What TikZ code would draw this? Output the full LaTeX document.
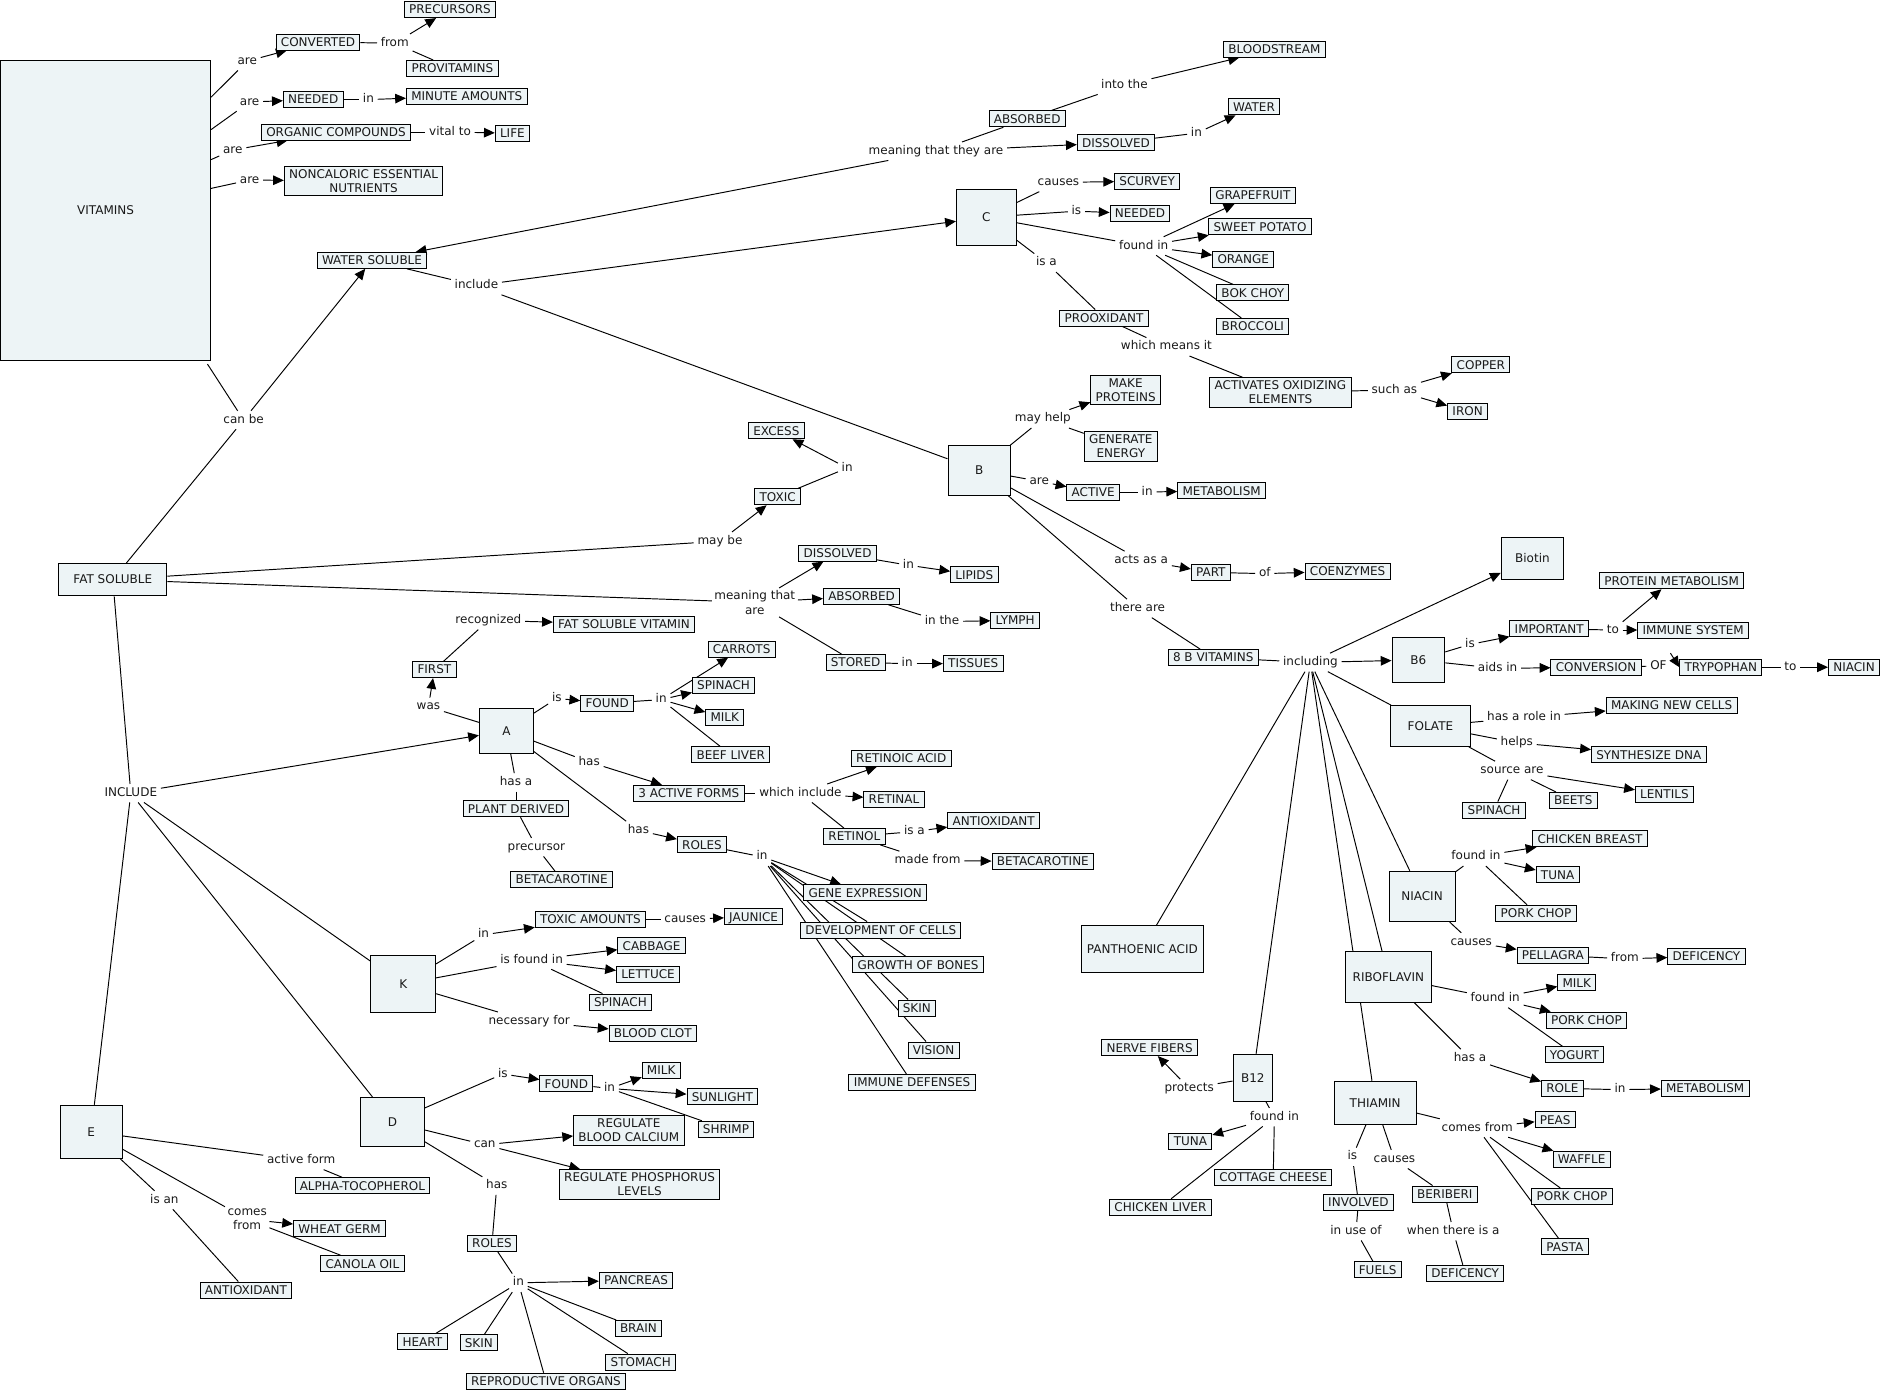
\documentclass[tikz,border=0pt]{standalone}
\usepackage{fontspec}
\setmainfont{DejaVu Sans}
\usetikzlibrary{arrows.meta}
\definecolor{cfill}{RGB}{237,244,246}
\definecolor{ctext}{RGB}{25,25,25}
\pgfdeclarelayer{bg}
\pgfsetlayers{bg,main}
\newcommand\fsz{\fontsize{10}{12}\selectfont}
\tikzset{
 cpt/.style={draw=black, line width=0.8pt, fill=cfill, text=ctext, font=\fsz, inner xsep=4pt, inner ysep=3pt, text height=7.3pt, text depth=0pt},
 cptm/.style={draw=black, line width=0.8pt, fill=cfill, text=ctext, font=\fsz, inner xsep=4pt, inner ysep=2.5pt, align=center},
 bigc/.style={cpt, inner sep=0pt},
 lbl/.style={text=ctext, font=\fsz, inner sep=3pt, text height=7pt, text depth=2pt},
 lblm/.style={text=ctext, font=\fsz, inner sep=2pt, align=center},
 cline/.style={line width=0.8pt, draw=black},
 carr/.style={cline, -{Triangle[length=9pt,width=8pt]}},
}
\begin{document}
\begin{tikzpicture}[x=1pt,y=-1pt]
\useasboundingbox (0,0) rectangle (1570,1160);
% ---------------- concepts ----------------
\node[bigc, minimum width=175pt, minimum height=250pt] (vit) at (88,175) {VITAMINS};
\node[cpt] (conv) at (265,35) {CONVERTED};
\node[cpt] (prec) at (375,8) {PRECURSORS};
\node[cpt] (prov) at (377,57) {PROVITAMINS};
\node[cpt] (need) at (261,83) {NEEDED};
\node[cpt] (minute) at (389,80) {MINUTE AMOUNTS};
\node[cpt] (org) at (280,110) {ORGANIC COMPOUNDS};
\node[cpt] (life) at (427,111) {LIFE};
\node[cptm] (nonc) at (303,151) {NONCALORIC ESSENTIAL\\NUTRIENTS};
\node[cpt] (ws) at (310,217) {WATER SOLUBLE};
\node[cpt] (abs1) at (856,99) {ABSORBED};
\node[cpt] (blood) at (1062,41) {BLOODSTREAM};
\node[cpt] (diss1) at (930,119) {DISSOLVED};
\node[cpt] (water) at (1045,89) {WATER};
\node[bigc, minimum width=50pt, minimum height=47pt] (C) at (822,181) {C};
\node[cpt] (scurvey) at (956,151) {SCURVEY};
\node[cpt] (need2) at (950,178) {NEEDED};
\node[cpt] (grape) at (1044,163) {GRAPEFRUIT};
\node[cpt] (sweet) at (1050,189) {SWEET POTATO};
\node[cpt] (orange) at (1036,216) {ORANGE};
\node[cpt] (bok) at (1044,244) {BOK CHOY};
\node[cpt] (broc) at (1044,272) {BROCCOLI};
\node[cpt] (proox) at (920,265) {PROOXIDANT};
\node[cptm] (activ) at (1067,327) {ACTIVATES OXIDIZING\\ELEMENTS};
\node[cpt] (copper) at (1234,304) {COPPER};
\node[cpt] (iron) at (1223,343) {IRON};
\node[bigc, minimum width=52pt, minimum height=41pt] (B) at (816,392) {B};
\node[cptm] (makep) at (938,325) {MAKE\\PROTEINS};
\node[cptm] (gen) at (934,372) {GENERATE\\ENERGY};
\node[cpt] (active) at (911,410) {ACTIVE};
\node[cpt] (metab1) at (1018,409) {METABOLISM};
\node[cpt] (part) at (1009,477) {PART};
\node[cpt] (coenz) at (1123,476) {COENZYMES};
\node[cpt] (eightb) at (1011,548) {8 B VITAMINS};
\node[bigc, minimum width=52pt, minimum height=35pt] (biotin) at (1277,465) {Biotin};
\node[bigc, minimum width=44pt, minimum height=37pt] (b6) at (1182,550) {B6};
\node[cpt] (important) at (1291,524) {IMPORTANT};
\node[cpt] (protmet) at (1393,484) {PROTEIN METABOLISM};
\node[cpt] (immune) at (1411,525) {IMMUNE SYSTEM};
\node[cpt] (conversion) at (1330,556) {CONVERSION};
\node[cpt] (tryp) at (1434,556) {TRYPOPHAN};
\node[cpt] (niacintwo) at (1545,556) {NIACIN};
\node[bigc, minimum width=67pt, minimum height=34pt] (folate) at (1192,605) {FOLATE};
\node[cpt] (makingcells) at (1393,588) {MAKING NEW CELLS};
\node[cpt] (synth) at (1374,629) {SYNTHESIZE DNA};
\node[cpt] (lentils) at (1387,662) {LENTILS};
\node[cpt] (beets) at (1311,667) {BEETS};
\node[cpt] (spinF) at (1245,675) {SPINACH};
\node[bigc, minimum width=55pt, minimum height=42pt] (niacin) at (1185,747) {NIACIN};
\node[cpt] (chickb) at (1325,699) {CHICKEN BREAST};
\node[cpt] (tunaN) at (1298,729) {TUNA};
\node[cpt] (porkN) at (1280,761) {PORK CHOP};
\node[cpt] (pellagra) at (1294,796) {PELLAGRA};
\node[cpt] (defN) at (1422,797) {DEFICENCY};
\node[bigc, minimum width=71pt, minimum height=42pt] (ribo) at (1157,814) {RIBOFLAVIN};
\node[cpt] (milkR) at (1314,819) {MILK};
\node[cpt] (porkR) at (1322,850) {PORK CHOP};
\node[cpt] (yogurt) at (1312,879) {YOGURT};
\node[cpt] (role) at (1302,907) {ROLE};
\node[cpt] (metabR) at (1421,907) {METABOLISM};
\node[bigc, minimum width=68pt, minimum height=36pt] (thiamin) at (1146,919) {THIAMIN};
\node[cpt] (peas) at (1296,933) {PEAS};
\node[cpt] (waffle) at (1318,966) {WAFFLE};
\node[cpt] (porkT) at (1310,997) {PORK CHOP};
\node[cpt] (pasta) at (1304,1039) {PASTA};
\node[cpt] (involved) at (1132,1002) {INVOLVED};
\node[cpt] (fuels) at (1148,1058) {FUELS};
\node[cpt] (beriberi) at (1204,995) {BERIBERI};
\node[cpt] (defT) at (1221,1061) {DEFICENCY};
\node[bigc, minimum width=33pt, minimum height=39pt] (btwelve) at (1044,898) {B12};
\node[cpt] (nerve) at (958,873) {NERVE FIBERS};
\node[cpt] (tunaB) at (992,951) {TUNA};
\node[cpt] (cottage) at (1061,981) {COTTAGE CHEESE};
\node[cpt] (chickl) at (967,1006) {CHICKEN LIVER};
\node[bigc, minimum width=102pt, minimum height=39pt] (panth) at (952,791) {PANTHOENIC ACID};
\node[bigc, minimum width=90pt, minimum height=27pt] (fat) at (94,483) {FAT SOLUBLE};
\node[cpt] (toxic) at (648,414) {TOXIC};
\node[cpt] (excess) at (647,359) {EXCESS};
\node[cpt] (diss2) at (698,461) {DISSOLVED};
\node[cpt] (lipids) at (812,479) {LIPIDS};
\node[cpt] (abs2) at (718,497) {ABSORBED};
\node[cpt] (lymph) at (846,517) {LYMPH};
\node[cpt] (stored) at (713,552) {STORED};
\node[cpt] (tissues) at (811,553) {TISSUES};
\node[bigc, minimum width=45pt, minimum height=37pt] (A) at (422,609) {A};
\node[cpt] (first) at (362,558) {FIRST};
\node[cpt] (fsv) at (520,520) {FAT SOLUBLE VITAMIN};
\node[cpt] (foundA) at (506,586) {FOUND};
\node[cpt] (carrots) at (618,541) {CARROTS};
\node[cpt] (spinA) at (603,571) {SPINACH};
\node[cpt] (milkA) at (604,598) {MILK};
\node[cpt] (beef) at (609,629) {BEEF LIVER};
\node[cpt] (actthree) at (574,661) {3 ACTIVE FORMS};
\node[cpt] (retacid) at (751,632) {RETINOIC ACID};
\node[cpt] (retinal) at (745,666) {RETINAL};
\node[cpt] (retinol) at (712,697) {RETINOL};
\node[cpt] (antiA) at (828,684) {ANTIOXIDANT};
\node[cpt] (betaR) at (869,718) {BETACAROTINE};
\node[cpt] (plant) at (430,674) {PLANT DERIVED};
\node[cpt] (betaL) at (468,733) {BETACAROTINE};
\node[cpt] (rolesA) at (585,704) {ROLES};
\node[cpt] (gene) at (721,744) {GENE EXPRESSION};
\node[cpt] (devcells) at (734,775) {DEVELOPMENT OF CELLS};
\node[cpt] (growth) at (765,804) {GROWTH OF BONES};
\node[cpt] (skinA) at (764,840) {SKIN};
\node[cpt] (vision) at (778,875) {VISION};
\node[cpt] (immdef) at (760,902) {IMMUNE DEFENSES};
\node[bigc, minimum width=54pt, minimum height=47pt] (K) at (336,820) {K};
\node[cpt] (toxam) at (492,766) {TOXIC AMOUNTS};
\node[cpt] (jaunice) at (628,764) {JAUNICE};
\node[cpt] (cabbage) at (543,788) {CABBAGE};
\node[cpt] (lettuce) at (540,812) {LETTUCE};
\node[cpt] (spinK) at (517,835) {SPINACH};
\node[cpt] (clot) at (544,861) {BLOOD CLOT};
\node[bigc, minimum width=53pt, minimum height=41pt] (D) at (327,935) {D};
\node[cpt] (foundD) at (472,903) {FOUND};
\node[cpt] (milkD) at (551,892) {MILK};
\node[cpt] (sun) at (602,914) {SUNLIGHT};
\node[cpt] (shrimp) at (605,941) {SHRIMP};
\node[cptm] (regca) at (524,942) {REGULATE\\BLOOD CALCIUM};
\node[cptm] (regp) at (533,987) {REGULATE PHOSPHORUS\\LEVELS};
\node[cpt] (rolesD) at (410,1036) {ROLES};
\node[cpt] (pancreas) at (530,1067) {PANCREAS};
\node[cpt] (brain) at (532,1107) {BRAIN};
\node[cpt] (stomach) at (534,1135) {STOMACH};
\node[cpt] (repro) at (455,1151) {REPRODUCTIVE ORGANS};
\node[cpt] (skinD) at (399,1119) {SKIN};
\node[cpt] (heart) at (352,1118) {HEART};
\node[bigc, minimum width=52pt, minimum height=44pt] (E) at (76,943) {E};
\node[cpt] (alpha) at (302,988) {ALPHA-TOCOPHEROL};
\node[cpt] (wheat) at (283,1024) {WHEAT GERM};
\node[cpt] (canola) at (302,1053) {CANOLA OIL};
\node[cpt] (antiE) at (205,1075) {ANTIOXIDANT};
% ---------------- linking phrases ----------------
\node[lbl] (lareA) at (206,51) {are};
\node[lbl] (lfrom) at (329,36) {from};
\node[lbl] (lareB) at (208,85) {are};
\node[lbl] (linA) at (307,83) {in};
\node[lbl] (lareC) at (194,125) {are};
\node[lbl] (lvital) at (375,110) {vital to};
\node[lbl] (lareD) at (208,150) {are};
\node[lbl] (lcanbe) at (203,350) {can be};
\node[lbl] (linclude) at (397,238) {include};
\node[lbl] (lmeanW) at (780,126) {meaning that they are};
\node[lbl] (linto) at (937,71) {into the};
\node[lbl] (linW) at (997,111) {in};
\node[lbl] (lcausesC) at (882,152) {causes};
\node[lbl] (lisC) at (897,176) {is};
\node[lbl] (lfoundC) at (953,205) {found in};
\node[lbl] (lisa) at (872,219) {is a};
\node[lbl] (lwhich) at (972,289) {which means it};
\node[lbl] (lsuch) at (1162,325) {such as};
\node[lbl] (lmayhelp) at (869,349) {may help};
\node[lbl] (lareE) at (866,401) {are};
\node[lbl] (linB) at (956,410) {in};
\node[lbl] (lacts) at (951,467) {acts as a};
\node[lbl] (lof) at (1054,478) {of};
\node[lbl] (lthere) at (948,507) {there are};
\node[lbl] (lincluding) at (1092,552) {including};
\node[lbl] (lissix) at (1225,537) {is};
\node[lbl] (ltosix) at (1344,525) {to};
\node[lbl] (laids) at (1248,557) {aids in};
\node[lbl] (lOF) at (1382,555) {OF};
\node[lbl] (ltoseven) at (1492,556) {to};
\node[lbl] (lrole) at (1270,598) {has a role in};
\node[lbl] (lhelps) at (1264,619) {helps};
\node[lbl] (lsource) at (1260,642) {source are};
\node[lbl] (lfoundN) at (1230,714) {found in};
\node[lbl] (lcausesN) at (1226,785) {causes};
\node[lbl] (lfromN) at (1354,799) {from};
\node[lbl] (lfoundR) at (1246,832) {found in};
\node[lbl] (lhasaR) at (1225,882) {has a};
\node[lbl] (linR) at (1350,908) {in};
\node[lbl] (lcomes) at (1231,940) {comes from};
\node[lbl] (lisT) at (1127,964) {is};
\node[lbl] (linuse) at (1130,1026) {in use of};
\node[lbl] (lcausesT) at (1162,966) {causes};
\node[lbl] (lwhen) at (1211,1026) {when there is a};
\node[lbl] (lprotects) at (991,907) {protects};
\node[lbl] (lfoundB) at (1062,931) {found in};
\node[lbl] (lmaybe) at (600,451) {may be};
\node[lbl] (linTox) at (706,390) {in};
\node[lblm] (lmeanF) at (629,502) {meaning that\\are};
\node[lbl] (linD) at (757,471) {in};
\node[lbl] (linthe) at (785,518) {in the};
\node[lbl] (linS) at (756,553) {in};
\node[lbl] (lINCLUDE) at (109,661) {INCLUDE};
\node[lbl] (lwas) at (357,589) {was};
\node[lbl] (lrecog) at (407,517) {recognized};
\node[lbl] (lisA) at (464,582) {is};
\node[lbl] (linAA) at (551,583) {in};
\node[lbl] (lhasone) at (491,635) {has};
\node[lbl] (lwhichtwo) at (667,661) {which include};
\node[lbl] (lisatwo) at (762,693) {is a};
\node[lbl] (lmade) at (773,717) {made from};
\node[lbl] (lhasa) at (430,652) {has a};
\node[lbl] (lprec) at (447,706) {precursor};
\node[lbl] (lhastwo) at (532,692) {has};
\node[lbl] (linRoles) at (635,714) {in};
\node[lbl] (linK) at (403,779) {in};
\node[lbl] (lcausesK) at (571,766) {causes};
\node[lbl] (lisfound) at (443,800) {is found in};
\node[lbl] (lnec) at (441,851) {necessary for};
\node[lbl] (lisD) at (419,895) {is};
\node[lbl] (linF) at (508,907) {in};
\node[lbl] (lcan) at (404,954) {can};
\node[lbl] (lhasD) at (414,988) {has};
\node[lbl] (linRD) at (432,1069) {in};
\node[lbl] (lactive) at (251,967) {active form};
\node[lblm] (lcomesE) at (206,1016) {comes\\from};
\node[lbl] (lisan) at (137,1000) {is an};
% ---------------- connectors ----------------
\begin{pgfonlayer}{bg}
\draw[cline] ([yshift=94pt]vit.east) -- (lareA);
\draw[carr] (lareA) -- (conv);
\draw[cline] (conv) -- (lfrom);
\draw[carr] (lfrom) -- (prec);
\draw[cline] (lfrom) -- (prov);
\draw[cline] ([yshift=67pt]vit.east) -- (lareB);
\draw[carr] (lareB) -- (need);
\draw[cline] (need) -- (linA);
\draw[carr] (linA) -- (minute);
\draw[cline] ([yshift=42pt]vit.east) -- (lareC);
\draw[carr] (lareC) -- (org);
\draw[cline] (org) -- (lvital);
\draw[carr] (lvital) -- (life);
\draw[cline] ([yshift=18pt]vit.east) -- (lareD);
\draw[carr] (lareD) -- (nonc);
\draw[cline] ([xshift=-3pt,yshift=-3pt]vit.south east) -- (lcanbe);
\draw[carr] (lcanbe) -- (ws);
\draw[cline] (fat) -- (lcanbe);
% water soluble
\draw[cline] (ws) -- (linclude);
\draw[carr] (linclude) -- (C);
\draw[cline] (linclude) -- (B);
\draw[carr] (lmeanW) -- (ws);
\draw[cline] (lmeanW) -- (abs1);
\draw[carr] (lmeanW) -- (diss1);
\draw[cline] (abs1) -- (linto);
\draw[carr] (linto) -- (blood);
\draw[cline] (diss1) -- (linW);
\draw[carr] (linW) -- (water);
% C
\draw[cline] (C) -- (lcausesC);
\draw[carr] (lcausesC) -- (scurvey);
\draw[cline] (C) -- (lisC);
\draw[carr] (lisC) -- (need2);
\draw[cline] (C) -- (lfoundC);
\draw[carr] (lfoundC) -- (grape);
\draw[carr] (lfoundC) -- (sweet);
\draw[carr] (lfoundC) -- (orange);
\draw[cline] (lfoundC) -- (bok);
\draw[cline] (lfoundC) -- (broc);
\draw[cline] (C) -- (lisa);
\draw[cline] (lisa) -- (proox);
\draw[cline] (proox) -- (lwhich);
\draw[cline] (lwhich) -- (activ);
\draw[cline] (activ) -- (lsuch);
\draw[carr] (lsuch) -- (copper);
\draw[carr] (lsuch) -- (iron);
% B
\draw[cline] (B) -- (lmayhelp);
\draw[carr] (lmayhelp) -- (makep);
\draw[cline] (lmayhelp) -- (gen);
\draw[cline] (B) -- (lareE);
\draw[carr] (lareE) -- (active);
\draw[cline] (active) -- (linB);
\draw[carr] (linB) -- (metab1);
\draw[cline] (B) -- (lacts);
\draw[carr] (lacts) -- (part);
\draw[cline] (part) -- (lof);
\draw[carr] (lof) -- (coenz);
\draw[cline] (B) -- (lthere);
\draw[cline] (lthere) -- (eightb);
\draw[cline] (eightb) -- (lincluding);
\draw[carr] (lincluding) -- (b6);
\draw[carr] (lincluding) -- (biotin);
\draw[cline] (lincluding) -- (folate);
\draw[cline] (lincluding) -- (niacin);
\draw[cline] (lincluding) -- (ribo);
\draw[cline] (lincluding) -- (thiamin);
\draw[cline] (lincluding) -- (btwelve);
\draw[cline] (lincluding) -- (panth);
% B6
\draw[cline] (b6) -- (lissix);
\draw[carr] (lissix) -- (important);
\draw[cline] (important) -- (ltosix);
\draw[carr] (ltosix) -- (immune);
\draw[carr] (ltosix) -- (protmet);
\draw[cline] (b6) -- (laids);
\draw[carr] (laids) -- (conversion);
\draw[cline] (conversion) -- (lOF);
\draw[carr] ([yshift=3pt]lOF.north east) -- (tryp.west);
\draw[cline] (tryp) -- (ltoseven);
\draw[carr] (ltoseven) -- (niacintwo);
% folate
\draw[cline] (folate) -- (lrole);
\draw[carr] (lrole) -- (makingcells);
\draw[cline] (folate) -- (lhelps);
\draw[carr] (lhelps) -- (synth);
\draw[cline] (folate) -- (lsource);
\draw[carr] (lsource) -- (lentils);
\draw[cline] (lsource) -- (beets);
\draw[cline] (lsource) -- (spinF);
% niacin
\draw[cline] (niacin) -- (lfoundN);
\draw[carr] (lfoundN) -- (chickb);
\draw[carr] (lfoundN) -- (tunaN);
\draw[cline] (lfoundN) -- (porkN);
\draw[cline] (niacin) -- (lcausesN);
\draw[carr] (lcausesN) -- (pellagra);
\draw[cline] (pellagra) -- (lfromN);
\draw[carr] (lfromN) -- (defN);
% riboflavin
\draw[cline] (ribo) -- (lfoundR);
\draw[carr] (lfoundR) -- (milkR);
\draw[carr] (lfoundR) -- (porkR);
\draw[cline] (lfoundR) -- (yogurt);
\draw[cline] (ribo) -- (lhasaR);
\draw[carr] (lhasaR) -- (role);
\draw[cline] (role) -- (linR);
\draw[carr] (linR) -- (metabR);
% thiamin
\draw[cline] (thiamin) -- (lcomes);
\draw[carr] (lcomes) -- (peas);
\draw[carr] (lcomes) -- (waffle);
\draw[cline] (lcomes) -- (porkT);
\draw[cline] (lcomes) -- (pasta);
\draw[cline] (thiamin) -- (lisT);
\draw[cline] (lisT) -- (involved);
\draw[cline] (involved) -- (linuse);
\draw[cline] (linuse) -- (fuels);
\draw[cline] (thiamin) -- (lcausesT);
\draw[cline] (lcausesT) -- (beriberi);
\draw[cline] (beriberi) -- (lwhen);
\draw[cline] (lwhen) -- (defT);
% B12
\draw[cline] (btwelve) -- (lprotects);
\draw[carr] (lprotects) -- (nerve);
\draw[cline] (btwelve) -- (lfoundB);
\draw[carr] (lfoundB) -- (tunaB);
\draw[cline] (lfoundB) -- (chickl);
\draw[cline] (lfoundB) -- (cottage);
% fat soluble
\draw[cline] (fat) -- (lmaybe);
\draw[carr] (lmaybe) -- (toxic);
\draw[cline] (toxic) -- (linTox);
\draw[carr] (linTox) -- (excess);
\draw[cline] (fat) -- (lmeanF);
\draw[carr] (lmeanF) -- (diss2);
\draw[carr] (lmeanF) -- (abs2);
\draw[cline] (lmeanF) -- (stored);
\draw[cline] (diss2) -- (linD);
\draw[carr] (linD) -- (lipids);
\draw[cline] (abs2) -- (linthe);
\draw[carr] (linthe) -- (lymph);
\draw[cline] (stored) -- (linS);
\draw[carr] (linS) -- (tissues);
\draw[cline] (fat) -- (lINCLUDE);
\draw[carr] (lINCLUDE) -- (A);
\draw[cline] (lINCLUDE) -- (E);
\draw[cline] (lINCLUDE) -- (D);
\draw[cline] (lINCLUDE) -- (K);
% A
\draw[cline] (A) -- (lwas);
\draw[carr] (lwas) -- (first);
\draw[cline] (first) -- (lrecog);
\draw[carr] (lrecog) -- (fsv);
\draw[cline] (A) -- (lisA);
\draw[carr] (lisA) -- (foundA);
\draw[cline] (foundA) -- (linAA);
\draw[carr] (linAA) -- (carrots);
\draw[carr] (linAA) -- (spinA);
\draw[carr] (linAA) -- (milkA);
\draw[cline] (linAA) -- (beef);
\draw[cline] (A) -- (lhasone);
\draw[carr] (lhasone) -- (actthree);
\draw[cline] (actthree) -- (lwhichtwo);
\draw[carr] (lwhichtwo) -- (retacid);
\draw[carr] (lwhichtwo) -- (retinal);
\draw[cline] (lwhichtwo) -- (retinol);
\draw[cline] (retinol) -- (lisatwo);
\draw[carr] (lisatwo) -- (antiA);
\draw[cline] (retinol) -- (lmade);
\draw[carr] (lmade) -- (betaR);
\draw[cline] (A) -- (lhasa);
\draw[cline] (lhasa) -- (plant);
\draw[cline] (plant) -- (lprec);
\draw[cline] (lprec) -- (betaL);
\draw[cline] (A) -- (lhastwo);
\draw[carr] (lhastwo) -- (rolesA);
\draw[cline] (rolesA) -- (linRoles);
\draw[carr] (linRoles) -- (gene);
\draw[cline] (linRoles) -- (devcells);
\draw[cline] (linRoles) -- (growth);
\draw[cline] (linRoles) -- (skinA);
\draw[cline] (linRoles) -- (vision);
\draw[cline] (linRoles) -- (immdef);
% K
\draw[cline] (K) -- (linK);
\draw[carr] (linK) -- (toxam);
\draw[cline] (toxam) -- (lcausesK);
\draw[carr] (lcausesK) -- (jaunice);
\draw[cline] (K) -- (lisfound);
\draw[carr] (lisfound) -- (cabbage);
\draw[carr] (lisfound) -- (lettuce);
\draw[cline] (lisfound) -- (spinK);
\draw[cline] (K) -- (lnec);
\draw[carr] (lnec) -- (clot);
% D
\draw[cline] (D) -- (lisD);
\draw[carr] (lisD) -- (foundD);
\draw[cline] (foundD) -- (linF);
\draw[carr] (linF) -- (milkD);
\draw[carr] (linF) -- (sun);
\draw[cline] (linF) -- (shrimp);
\draw[cline] (D) -- (lcan);
\draw[carr] (lcan) -- (regca);
\draw[carr] (lcan) -- (regp);
\draw[cline] (D) -- (lhasD);
\draw[cline] (lhasD) -- (rolesD);
\draw[cline] (rolesD) -- (linRD);
\draw[carr] (linRD) -- (pancreas);
\draw[cline] (linRD) -- (brain);
\draw[cline] (linRD) -- (stomach);
\draw[cline] (linRD) -- (repro);
\draw[cline] (linRD) -- (skinD);
\draw[cline] (linRD) -- (heart);
% E
\draw[cline] (E) -- (lactive);
\draw[cline] (lactive) -- (alpha);
\draw[cline] (E) -- (lcomesE);
\draw[carr] (lcomesE) -- (wheat);
\draw[cline] (lcomesE) -- (canola);
\draw[cline] (E) -- (lisan);
\draw[cline] (lisan) -- (antiE);
\end{pgfonlayer}
\end{tikzpicture}
\end{document}
